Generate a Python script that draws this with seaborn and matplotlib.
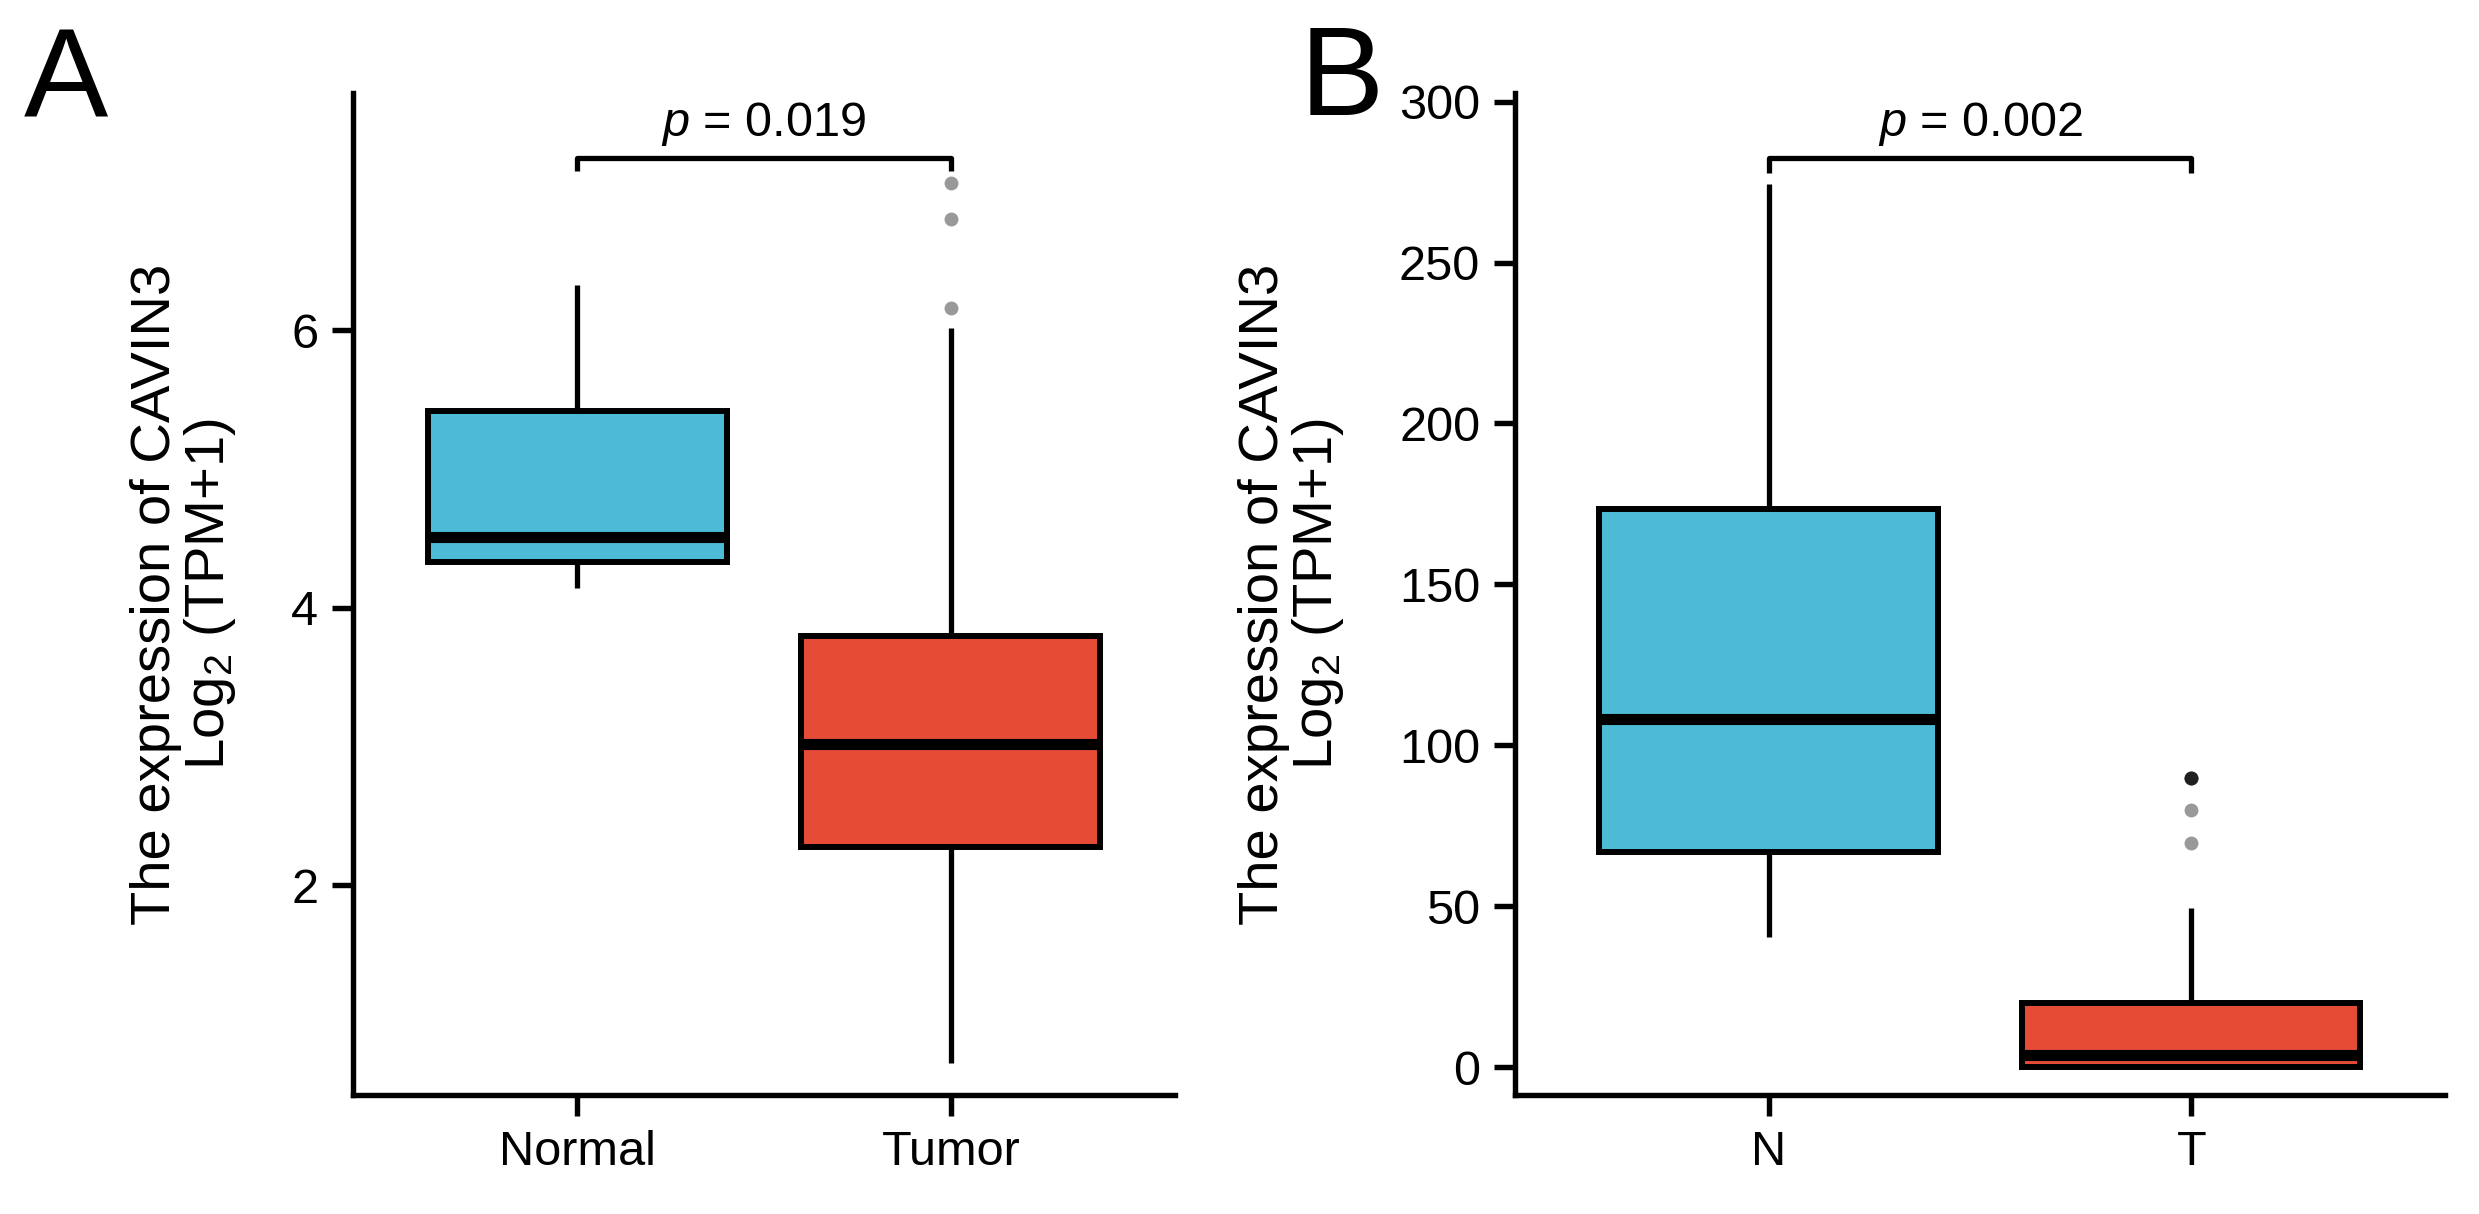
"""
CAVIN3 발현 박스플롯 (A: Normal vs Tumor, B: N vs T).
"""

import matplotlib

matplotlib.use("Agg")
import matplotlib.pyplot as plt
import pandas as pd
import seaborn as sns

# ---- 데이터 (그림에서 읽은 값: 최소, Q1, 중앙값, Q3, 최대) ----
groups_a = ["Normal", "Tumor"]
normal_a = [4.14, 4.33, 4.51, 5.42, 6.33]
tumor_a = [0.72, 2.28, 3.02, 3.80, 6.02]
tumor_a_outliers = [6.16, 6.80, 7.06]
p_a = "0.019"

groups_b = ["N", "T"]
normal_b = [40.4, 66.8, 108.2, 173.3, 274.3]
tumor_b = [0.0, 0.0, 3.6, 20.0, 49.3]
tumor_b_outliers = [69.6, 79.8, 89.7, 89.7, 89.7, 89.7]
p_b = "0.002"

COLORS = ["#4DBBD5", "#E64B35"]
YLABEL = "The expression of CAVIN3\nLog$_2$ (TPM+1)"

sns.set_style("ticks")
plt.rcParams.update(
    {
        "font.family": ["Liberation Sans", "DejaVu Sans"],
        "mathtext.fontset": "custom",
        "mathtext.rm": "Liberation Sans",
        "mathtext.it": "Liberation Sans:italic",
        "axes.linewidth": 3.9,
        "axes.edgecolor": "black",
        "axes.labelcolor": "black",
        "text.color": "black",
        "xtick.color": "black",
        "ytick.color": "black",
    }
)


def long_df(groups, values):
    rows = [(g, v) for g, vals in zip(groups, values) for v in vals]
    return pd.DataFrame(rows, columns=["group", "value"])


def draw_panel(ax, groups, values, outliers, p_text, ylim, yticks, bracket):
    df = long_df(groups, values)
    sns.boxplot(
        data=df, x="group", y="value", hue="group", order=groups, hue_order=groups,
        palette=COLORS, saturation=1, width=0.8, whis=(0, 100), showcaps=False,
        showfliers=False, linecolor="black", linewidth=4.3,
        whiskerprops={"linewidth": 3.8},
        medianprops={"linewidth": 8, "color": "black"}, legend=False, ax=ax,
    )
    out_df = pd.DataFrame({"group": groups[1], "value": outliers})
    sns.stripplot(
        data=out_df, x="group", y="value", order=groups, jitter=False,
        color="black", alpha=0.4, size=10, linewidth=0, ax=ax,
    )
    # 유의성 브래킷
    lo, hi, txt_y = bracket
    ax.plot([0, 0, 1, 1], [lo, hi, hi, lo], color="black", lw=3.8, solid_capstyle="butt")
    ax.text(0.5, txt_y, f"$p$ = {p_text}", ha="center", va="baseline", fontsize=35)

    ax.set_xlim(-0.6, 1.6)
    ax.set_ylim(*ylim)
    ax.set_yticks(yticks)
    ax.set_xlabel("")
    ax.set_ylabel(YLABEL, fontsize=40.5, linespacing=1.0, labelpad=38)
    ax.tick_params(length=15, width=3.9, labelsize=35, pad=10)
    sns.despine(ax=ax)


fig = plt.figure(figsize=(24.79, 12.14), dpi=100)
ax_a = fig.add_axes([0.1424, 0.098, 0.474 - 0.1424, 0.9234 - 0.098])
ax_b = fig.add_axes([0.6111, 0.098, 0.9863 - 0.6111, 0.9234 - 0.098])

draw_panel(ax_a, groups_a, [normal_a, tumor_a], tumor_a_outliers, p_a,
           (0.49, 7.71), [2, 4, 6], (7.15, 7.24, 7.40))
draw_panel(ax_b, groups_b, [normal_b, tumor_b], tumor_b_outliers, p_b,
           (-8.7, 302.7), [0, 50, 100, 150, 200, 250, 300], (277.9, 282.5, 289.3))

fig.text(0.0097, 0.9044, "A", fontsize=91, ha="left", va="baseline")
fig.text(1300 / 2479, 0.9052, "B", fontsize=91, ha="left", va="baseline")

fig.savefig("out.png", dpi=100, facecolor="white")
